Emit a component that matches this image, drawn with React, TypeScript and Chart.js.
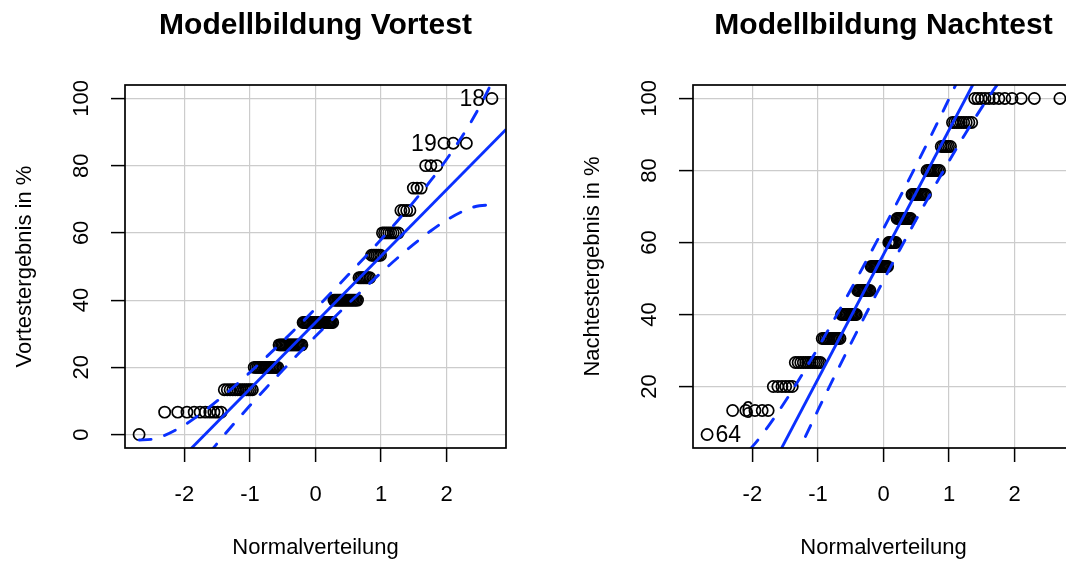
import React, { useEffect, useRef } from "react";
import { Chart, registerables } from "chart.js";
Chart.register(...registerables);

// ---------- data ----------
const xTicks = [-2, -1, 0, 1, 2];
const vortestYTicks = [0, 20, 40, 60, 80, 100];
const nachtestYTicks = [20, 40, 60, 80, 100];

// score levels (percent) and how many students reached each level
const vortestLevels = [0, 6.67, 13.33, 20, 26.67, 33.33, 40, 46.67, 53.33, 60, 66.67, 73.33, 80, 86.67, 100];
const vortestCounts = [1, 10, 13, 16, 19, 26, 19, 8, 6, 8, 4, 3, 3, 3, 1];
const nachtestLevels = [6.67, 13.33, 20, 26.67, 33.33, 40, 46.67, 53.33, 60, 66.67, 73.33, 80, 86.67, 93.33, 100];
const nachtestCounts = [1, 5, 6, 12, 12, 12, 11, 15, 7, 12, 11, 9, 6, 9, 12];

// reference line (two end points)
const vortestLineX = [-2.905, 2.905];
const vortestLineY = [-24.09, 90.76];
const nachtestLineX = [-2.905, 2.905];
const nachtestLineY = [-43.83, 157.16];

// confidence envelope
const bandX = [-2.69, -2.5, -2.3, -2.0, -1.75, -1.5, -1.25, -1.0, -0.75, -0.5, -0.25, 0, 0.25, 0.5, 0.75, 1.0, 1.25, 1.5, 1.75, 2.0, 2.3, 2.5, 2.69];
const vortestUpper = [-1.6, -1.42, -0.24, 2.83, 6.18, 9.99, 14.13, 18.51, 23.06, 27.74, 32.54, 37.44, 42.42, 47.51, 52.71, 58.05, 63.55, 69.3, 75.37, 81.91, 90.71, 97.43, 104.76];
const vortestLower = [-38.1, -30.77, -24.05, -15.25, -8.71, -2.64, 3.11, 8.62, 13.95, 19.15, 24.24, 29.23, 34.12, 38.92, 43.6, 48.16, 52.53, 56.67, 60.48, 63.83, 66.9, 68.08, 68.26];
const nachtestUpper = [-4.45, -4.14, -2.07, 3.31, 9.15, 15.83, 23.06, 30.72, 38.69, 46.89, 55.28, 63.85, 72.58, 81.48, 90.58, 99.91, 109.55, 119.61, 130.23, 141.69, 157.06, 168.83, 181.66];
const nachtestLower = [-68.33, -55.5, -43.73, -28.35, -16.89, -6.27, 3.78, 13.42, 22.75, 31.85, 40.76, 49.49, 58.06, 66.44, 74.64, 82.61, 90.27, 97.51, 104.19, 110.03, 115.4, 117.47, 117.78];

// identified points
const vortestLabelText = ["18", "19"];
const vortestLabelX = [2.693, 1.955];
const vortestLabelY = [100, 86.67];
const vortestLabelSide = ["left", "left"];
const nachtestLabelText = ["64", "6"];
const nachtestLabelX = [-2.693, -2.3];
const nachtestLabelY = [6.67, 13.33];
const nachtestLabelSide = ["right", "right"];

// ---------- helpers ----------
function qnorm(p: number): number {
  const a = [-3.969683028665376e1, 2.209460984245205e2, -2.759285104469687e2, 1.38357751867269e2, -3.066479806614716e1, 2.506628277459239];
  const b = [-5.447609879822406e1, 1.615858368580409e2, -1.556989798598866e2, 6.680131188771972e1, -1.328068155288572e1];
  const c = [-7.784894002430293e-3, -3.223964580411365e-1, -2.400758277161838, -2.549732539343734, 4.374664141464968, 2.938163982698783];
  const d = [7.784695709041462e-3, 3.224671290700398e-1, 2.445134137142996, 3.754408661907416];
  const pl = 0.02425;
  if (p < pl) {
    const q = Math.sqrt(-2 * Math.log(p));
    return (((((c[0] * q + c[1]) * q + c[2]) * q + c[3]) * q + c[4]) * q + c[5]) / ((((d[0] * q + d[1]) * q + d[2]) * q + d[3]) * q + 1);
  }
  if (p <= 1 - pl) {
    const q = p - 0.5;
    const r = q * q;
    return ((((((a[0] * r + a[1]) * r + a[2]) * r + a[3]) * r + a[4]) * r + a[5]) * q) / (((((b[0] * r + b[1]) * r + b[2]) * r + b[3]) * r + b[4]) * r + 1);
  }
  const q = Math.sqrt(-2 * Math.log(1 - p));
  return -(((((c[0] * q + c[1]) * q + c[2]) * q + c[3]) * q + c[4]) * q + c[5]) / ((((d[0] * q + d[1]) * q + d[2]) * q + d[3]) * q + 1);
}

function qqPoints(levels: number[], counts: number[]) {
  const sorted: number[] = [];
  levels.forEach((lv, i) => {
    for (let k = 0; k < counts[i]; k++) sorted.push(lv);
  });
  const n = sorted.length;
  return sorted.map((y, i) => ({ x: qnorm((i + 0.5) / n), y }));
}

const zip = (xs: number[], ys: number[]) => xs.map((x, i) => ({ x, y: ys[i] }));

const FONT = "'Liberation Sans', Arial, Helvetica, sans-serif";
const BLUE = "#0a30ff";
const PANEL = 568;

const boxPlugin = {
  id: "rbox",
  afterDatasetsDraw(chart: any) {
    const { ctx, chartArea } = chart;
    ctx.save();
    ctx.strokeStyle = "#000";
    ctx.lineWidth = 1.7;
    ctx.strokeRect(chartArea.left, chartArea.top, chartArea.right - chartArea.left, chartArea.bottom - chartArea.top);
    ctx.restore();
  },
};

const idPlugin = {
  id: "idlabels",
  afterDatasetsDraw(chart: any, _args: any, opts: any) {
    const { ctx, scales } = chart;
    const labels = opts.labels || [];
    ctx.save();
    ctx.font = `23px ${FONT}`;
    ctx.fillStyle = "#000";
    ctx.textBaseline = "middle";
    labels.forEach((l: any) => {
      const px = scales.x.getPixelForValue(l.x);
      const py = scales.y.getPixelForValue(l.y);
      if (l.side === "left") {
        ctx.textAlign = "right";
        ctx.fillText(l.text, px - 7, py + 1);
      } else {
        ctx.textAlign = "left";
        ctx.fillText(l.text, px + 8.5, py + 1);
      }
    });
    ctx.restore();
  },
};

type PanelProps = {
  title: string;
  yTitle: string;
  levels: number[];
  counts: number[];
  yTicks: number[];
  yMin: number;
  yMax: number;
  lineX: number[];
  lineY: number[];
  upper: number[];
  lower: number[];
  labelText: string[];
  labelX: number[];
  labelY: number[];
  labelSide: string[];
  left: number;
};

function Panel(p: PanelProps) {
  const ref = useRef<HTMLCanvasElement | null>(null);
  useEffect(() => {
    if (!ref.current) return;
    const dashed = {
      showLine: true,
      borderColor: BLUE,
      borderWidth: 2.9,
      borderDash: [12, 14],
      borderCapStyle: "round" as const,
      pointRadius: 0,
      cubicInterpolationMode: "monotone" as const,
      fill: false,
    };
    const labels = p.labelText.map((t, i) => ({ text: t, x: p.labelX[i], y: p.labelY[i], side: p.labelSide[i] }));
    const chart = new Chart(ref.current, {
      type: "scatter",
      data: {
        datasets: [
          { ...dashed, data: zip(bandX, p.upper) },
          { ...dashed, data: zip(bandX, p.lower) },
          {
            showLine: true,
            borderColor: BLUE,
            borderWidth: 2.9,
            pointRadius: 0,
            data: zip(p.lineX, p.lineY),
          },
          {
            data: qqPoints(p.levels, p.counts),
            pointStyle: "circle",
            pointRadius: 5.6,
            pointBorderWidth: 1.7,
            pointBorderColor: "#000",
            pointBackgroundColor: "rgba(0,0,0,0)",
            showLine: false,
          },
        ] as any,
      },
      options: {
        animation: false,
        responsive: false,
        devicePixelRatio: 1,
        events: [],
        layout: { padding: { left: 0, right: 62, top: 0, bottom: 0 } },
        scales: {
          x: {
            type: "linear",
            min: -2.905,
            max: 2.905,
            afterBuildTicks: (s: any) => {
              s.ticks = xTicks.map((v) => ({ value: v }));
            },
            afterFit: (s: any) => {
              s.height = 120;
            },
            ticks: {
              padding: 20,
              color: "#000",
              font: { family: FONT, size: 22 },
              maxRotation: 0,
              autoSkip: false,
              callback: (v: any) => String(v),
            },
            grid: { color: "#cccccc", lineWidth: 1.2, tickLength: 14, tickColor: "#000", tickWidth: 1.5 },
            border: { display: false },
            title: {
              display: true,
              text: "Normalverteilung",
              color: "#000",
              font: { family: FONT, size: 22 },
              padding: { top: 0, bottom: 6.8 },
            },
          },
          y: {
            type: "linear",
            min: p.yMin,
            max: p.yMax,
            afterBuildTicks: (s: any) => {
              s.ticks = p.yTicks.map((v) => ({ value: v }));
            },
            afterFit: (s: any) => {
              s.width = 125;
            },
            ticks: {
              padding: 11,
              color: "#000",
              font: { family: FONT, size: 22 },
              minRotation: 90,
              maxRotation: 90,
              crossAlign: "center",
              autoSkip: false,
              callback: (v: any) => String(v),
            },
            grid: { color: "#cccccc", lineWidth: 1.2, tickLength: 14, tickColor: "#000", tickWidth: 1.5 },
            border: { display: false },
            title: {
              display: true,
              text: p.yTitle,
              color: "#000",
              font: { family: FONT, size: 22 },
              padding: { top: 12, bottom: 0 },
            },
          },
        },
        plugins: {
          legend: { display: false },
          tooltip: { enabled: false },
          title: {
            display: true,
            text: p.title,
            color: "#000",
            fullSize: false,
            font: { family: FONT, size: 30, weight: "bold" },
            padding: { top: 8, bottom: 41 },
          },
          idlabels: { labels },
        } as any,
      },
      plugins: [boxPlugin, idPlugin],
    });
    return () => chart.destroy();
  }, []);
  return (
    <canvas
      ref={ref}
      width={PANEL}
      height={PANEL}
      style={{ position: "absolute", left: p.left, top: 0, width: PANEL, height: PANEL, display: "block" }}
    />
  );
}

export default function App() {
  return (
    <div style={{ position: "fixed", left: 0, top: 0, width: 1066, height: 568, overflow: "hidden", background: "#fff" }}>
      <Panel
        title="Modellbildung Vortest"
        yTitle="Vortestergebnis in %"
        levels={vortestLevels}
        counts={vortestCounts}
        yTicks={vortestYTicks}
        yMin={-4}
        yMax={104}
        lineX={vortestLineX}
        lineY={vortestLineY}
        upper={vortestUpper}
        lower={vortestLower}
        labelText={vortestLabelText}
        labelX={vortestLabelX}
        labelY={vortestLabelY}
        labelSide={vortestLabelSide}
        left={0}
      />
      <Panel
        title="Modellbildung Nachtest"
        yTitle="Nachtestergebnis in %"
        levels={nachtestLevels}
        counts={nachtestCounts}
        yTicks={nachtestYTicks}
        yMin={2.933}
        yMax={103.733}
        lineX={nachtestLineX}
        lineY={nachtestLineY}
        upper={nachtestUpper}
        lower={nachtestLower}
        labelText={nachtestLabelText}
        labelX={nachtestLabelX}
        labelY={nachtestLabelY}
        labelSide={nachtestLabelSide}
        left={PANEL}
      />
    </div>
  );
}
